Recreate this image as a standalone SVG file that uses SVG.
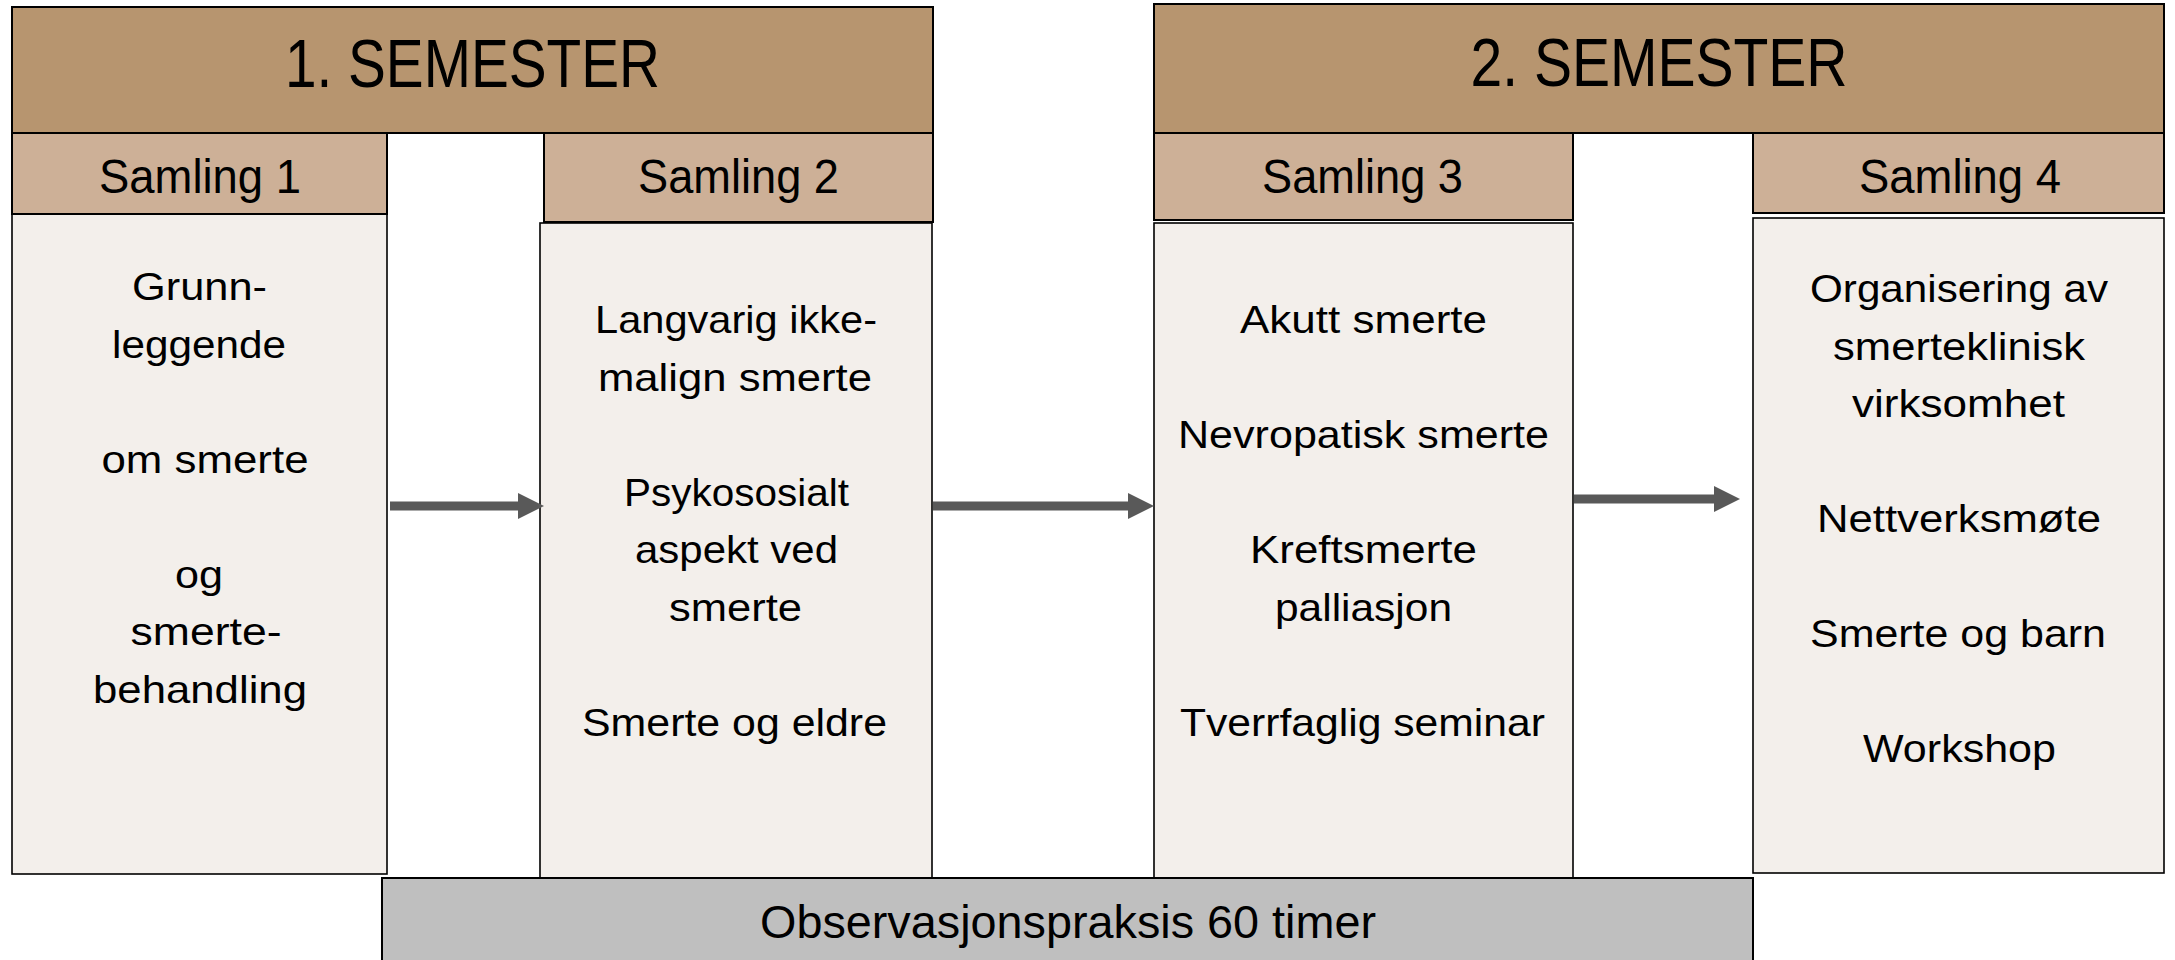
<svg xmlns="http://www.w3.org/2000/svg" width="2175" height="960" viewBox="0 0 2175 960">
<defs>
<style>
.sem{fill:#B7956F;stroke:#000;stroke-width:2}
.sh{fill:#CDB097;stroke:#000;stroke-width:2}
.bd{fill:#F3EFEB;stroke:#000;stroke-width:1.6}
.obs{fill:#BFBFBF;stroke:#000;stroke-width:2}
text{font-family:"Liberation Sans",Arial,sans-serif;fill:#000;text-anchor:middle}
.t1{font-size:68px}
.t2{font-size:48px}
.t3{font-size:39px}
.t4{font-size:46px}
.con{stroke:#595959;stroke-width:9;fill:none}
</style>
<marker id="ah" markerUnits="userSpaceOnUse" markerWidth="26" markerHeight="26" viewBox="0 0 26 26" refX="0" refY="13" orient="auto">
<path d="M0,0 L26,13 L0,26 Z" fill="#595959"/>
</marker>
</defs>
<rect width="2175" height="960" fill="#fff"/>

<g id="semester1">
<rect class="sem" x="12" y="7" width="921" height="126"/>
<text class="t1" x="472.5" y="87" textLength="375" lengthAdjust="spacingAndGlyphs">1. SEMESTER</text>
</g>
<g id="semester2">
<rect class="sem" x="1154" y="4" width="1010" height="129"/>
<text class="t1" x="1659" y="86" textLength="377" lengthAdjust="spacingAndGlyphs">2. SEMESTER</text>
</g>

<g id="samling1">
<rect class="bd" x="12" y="214" width="375" height="660"/>
<rect class="sh" x="12" y="133" width="375" height="81"/>
<text class="t2" x="200" y="193" textLength="202" lengthAdjust="spacingAndGlyphs">Samling 1</text>
<text class="t3" x="199.5" y="300" textLength="135" lengthAdjust="spacingAndGlyphs">Grunn-</text>
<text class="t3" x="199" y="357.5" textLength="174" lengthAdjust="spacingAndGlyphs">leggende</text>
<text class="t3" x="205" y="472.5" textLength="207" lengthAdjust="spacingAndGlyphs">om smerte</text>
<text class="t3" x="199" y="587.5" textLength="48" lengthAdjust="spacingAndGlyphs">og</text>
<text class="t3" x="206" y="645" textLength="151" lengthAdjust="spacingAndGlyphs">smerte-</text>
<text class="t3" x="200" y="702.5" textLength="214" lengthAdjust="spacingAndGlyphs">behandling</text>
</g>

<g id="samling2">
<rect class="bd" x="540" y="223" width="392" height="655"/>
<rect class="sh" x="544" y="133" width="389" height="89"/>
<text class="t2" x="738.5" y="193" textLength="201" lengthAdjust="spacingAndGlyphs">Samling 2</text>
<text class="t3" x="736" y="333" textLength="282" lengthAdjust="spacingAndGlyphs">Langvarig ikke-</text>
<text class="t3" x="735" y="390.5" textLength="274" lengthAdjust="spacingAndGlyphs">malign smerte</text>
<text class="t3" x="736.5" y="505.5" textLength="225" lengthAdjust="spacingAndGlyphs">Psykososialt</text>
<text class="t3" x="736.5" y="563" textLength="203" lengthAdjust="spacingAndGlyphs">aspekt ved</text>
<text class="t3" x="735.5" y="620.5" textLength="133" lengthAdjust="spacingAndGlyphs">smerte</text>
<text class="t3" x="734.5" y="735.5" textLength="305" lengthAdjust="spacingAndGlyphs">Smerte og eldre</text>
</g>

<g id="samling3">
<rect class="bd" x="1154" y="223" width="419" height="655"/>
<rect class="sh" x="1154" y="133" width="419" height="87"/>
<text class="t2" x="1362.5" y="193" textLength="201" lengthAdjust="spacingAndGlyphs">Samling 3</text>
<text class="t3" x="1363.5" y="333" textLength="247" lengthAdjust="spacingAndGlyphs">Akutt smerte</text>
<text class="t3" x="1363.5" y="448" textLength="371" lengthAdjust="spacingAndGlyphs">Nevropatisk smerte</text>
<text class="t3" x="1363.5" y="563" textLength="227" lengthAdjust="spacingAndGlyphs">Kreftsmerte</text>
<text class="t3" x="1363.5" y="620.5" textLength="177" lengthAdjust="spacingAndGlyphs">palliasjon</text>
<text class="t3" x="1362.5" y="735.5" textLength="365" lengthAdjust="spacingAndGlyphs">Tverrfaglig seminar</text>
</g>

<g id="samling4">
<rect class="bd" x="1753" y="218" width="411" height="655"/>
<rect class="sh" x="1753" y="133" width="411" height="80"/>
<text class="t2" x="1960" y="193" textLength="202" lengthAdjust="spacingAndGlyphs">Samling 4</text>
<text class="t3" x="1959" y="302" textLength="298" lengthAdjust="spacingAndGlyphs">Organisering av</text>
<text class="t3" x="1959" y="359.5" textLength="252" lengthAdjust="spacingAndGlyphs">smerteklinisk</text>
<text class="t3" x="1958.5" y="417" textLength="213" lengthAdjust="spacingAndGlyphs">virksomhet</text>
<text class="t3" x="1959" y="532" textLength="284" lengthAdjust="spacingAndGlyphs">Nettverksmøte</text>
<text class="t3" x="1958" y="647" textLength="296" lengthAdjust="spacingAndGlyphs">Smerte og barn</text>
<text class="t3" x="1959.5" y="762" textLength="193" lengthAdjust="spacingAndGlyphs">Workshop</text>
</g>

<g id="observasjonspraksis">
<rect class="obs" x="382" y="878" width="1371" height="95"/>
<text class="t4" x="1068" y="938" textLength="616" lengthAdjust="spacingAndGlyphs">Observasjonspraksis 60 timer</text>
</g>

<g id="connectors">
<line class="con" x1="390" y1="506" x2="518" y2="506" marker-end="url(#ah)"/>
<line class="con" x1="933" y1="506" x2="1128" y2="506" marker-end="url(#ah)"/>
<line class="con" x1="1574" y1="499" x2="1714" y2="499" marker-end="url(#ah)"/>
</g>
</svg>
